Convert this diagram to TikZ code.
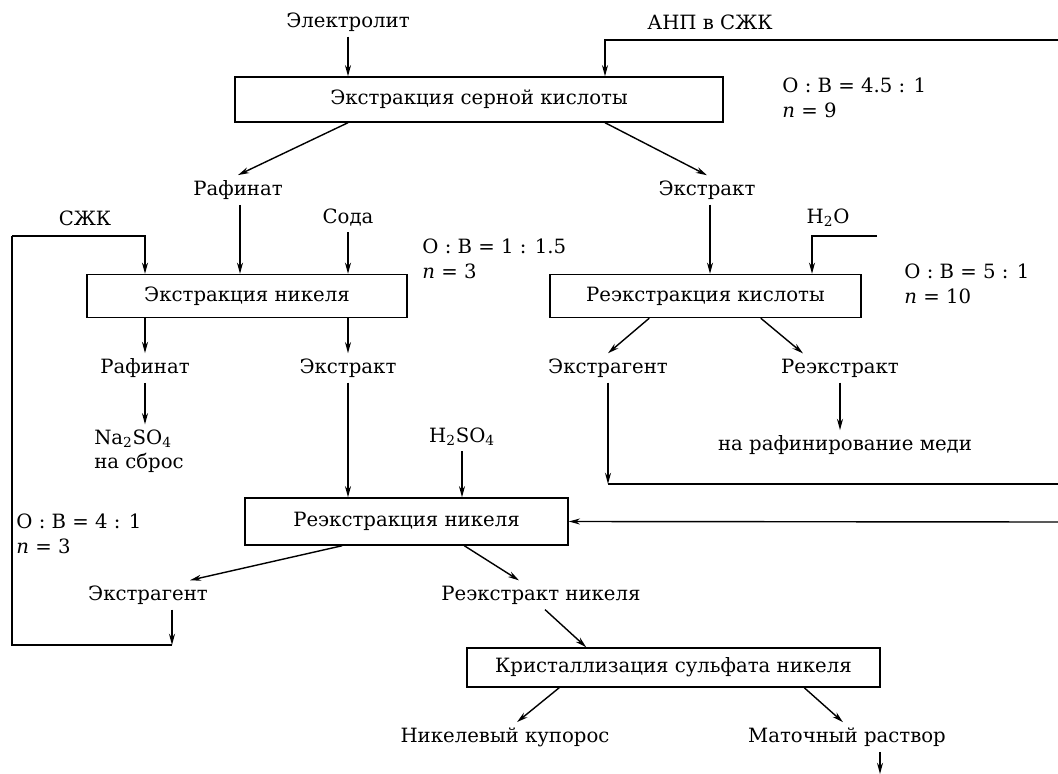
\documentclass[tikz,border=0pt]{standalone}
\usepackage{fontspec}
\setmainfont{DejaVu Serif}
\usetikzlibrary{arrows.meta, positioning, calc}

\begin{document}
\begin{tikzpicture}[x=0.025cm, y=-0.025cm,
  >={Stealth[length=2.8mm, width=1.5mm]}, line width=1pt,
  every node/.style={font=\fontsize{14}{17}\selectfont},
  stage/.style={draw, line width=1pt, inner sep=0pt},
  param/.style={anchor=west, align=left, font=\fontsize{14}{17.5}\selectfont}]

\useasboundingbox (0,0) rectangle (1058,774);

% Stage boxes
\node[stage, minimum width=12.2cm, minimum height=1.125cm] (b1) at (479,99.5) {Экстракция серной кислоты};
\node[stage, minimum width=8cm, minimum height=1.075cm] (b2) at (247,296) {Экстракция никеля};
\node[stage, minimum width=7.775cm, minimum height=1.075cm] (b3) at (705.5,296) {Реэкстракция кислоты};
\node[stage, minimum width=8.075cm, minimum height=1.175cm] (b4) at (406.5,521.5) {Реэкстракция никеля};
\node[stage, minimum width=10.325cm, minimum height=0.975cm] (b5) at (673.5,667.5) {Кристаллизация сульфата никеля};

% Stream labels
\node (elec) at (348,22) {Электролит};
\node (anp) at (710,22) {АНП в СЖК};
\node (raf1) at (238,190) {Рафинат};
\node (ext1) at (707,190) {Экстракт};
\node (szk) at (85,218) {СЖК};
\node (soda) at (348,218) {Сода};
\node (h2o) at (828,218) {H\textsubscript{2}O};
\node (raf2) at (145,368) {Рафинат};
\node (ext2) at (348,368) {Экстракт};
\node (extr1) at (608,368) {Экстрагент};
\node (reextr) at (840,368) {Реэкстракт};
\node[align=left] (na) at (139,451) {Na\textsubscript{2}SO\textsubscript{4}\\на сброс};
\node (h2so4) at (462,437) {H\textsubscript{2}SO\textsubscript{4}};
\node (med) at (845,445) {на рафинирование меди};
\node (extr2) at (148,595) {Экстрагент};
\node (rnik) at (541,595) {Реэкстракт никеля};
\node (kup) at (505,737) {Никелевый купорос};
\node (mat) at (847,737) {Маточный раствор};

% Phase ratios
\node[param] (p1) at (777,98) {О : В = 4.5 : 1\\\textit{n} = 9};
\node[param] (p2) at (417,259) {О : В = 1 : 1.5\\\textit{n} = 3};
\node[param] (p3) at (899,284) {О : В = 5 : 1\\\textit{n} = 10};
\node[param] (p4) at (11,534) {О : В = 4 : 1\\\textit{n} = 3};

% Free ends of the loops
\coordinate (anpR) at (1058,40);
\coordinate (anpL) at (605,40);
\coordinate (szkL) at (12,236);
\coordinate (szkR) at (145,236);
\coordinate (h2oR) at (877,236);
\coordinate (h2oL) at (812,236);
\coordinate (retL) at (608,484);
\coordinate (retR) at (1058,484);
\coordinate (backR) at (1058,522);
\coordinate (loopB) at (172,645);
\coordinate (out) at (880,774);

% Sulfuric acid extraction
\draw[->] (elec) -- (elec |- b1.north);
\draw[->] (anpR) -- (anpL) -- (anpL |- b1.north);
\draw[->] (b1.south -| elec) -- (raf1.north);
\draw[->] (b1.south -| anpL) -- (ext1.north);

% Nickel extraction
\draw[->] (szkL) -- (szkR) -- (szkR |- b2.north);
\draw[->] (raf1.south -| 240,0) -- (b2.north -| 240,0);
\draw[->] (soda) -- (soda |- b2.north);
\draw[->] (b2.south -| szkR) -- (raf2.north);
\draw[->] (b2.south -| soda) -- (ext2.north);
\draw[->] (raf2.south) -- (raf2.south |- na.north);

% Acid stripping
\draw[->] (ext1.south -| 710,0) -- (b3.north -| 710,0);
\draw[->] (h2oR) -- (h2oL) -- (h2oL |- b3.north);
\draw[->] ($(b3.south west)+(100,0)$) -- (extr1.north);
\draw[->] ($(b3.south east)+(-101,0)$) -- ($(reextr.north)+(-37,0)$);
\draw[->] (reextr.south) -- (reextr.south |- med.north);
\draw[->] (extr1.south -| retL) -- (retL);
\draw (retL) -- (retR);

% Nickel stripping
\draw[->] (ext2.south) -- (ext2.south |- b4.north);
\draw[->] (h2so4.south) -- (h2so4.south |- b4.north);
\draw[->] (backR) -- (b4.east);
\draw[->] ($(b4.south west)+(98,0)$) -- ($(extr2.north)+(42,0)$);
\draw[->] ($(b4.south west)+(220,0)$) -- ($(rnik.north)+(-22,0)$);
\draw[->] (extr2.south -| loopB) -- (loopB);
\draw (loopB) -| (szkL);

% Crystallisation
\draw[->] ($(rnik.south)+(4,0)$) -- ($(b5.north west)+(120,0)$);
\draw[->] ($(b5.south west)+(93,0)$) -- ($(kup.north)+(12,0)$);
\draw[->] ($(b5.south west)+(338,0)$) -- ($(mat.north)+(-4,0)$);
\draw[->] (mat.south -| out) -- (out);

\end{tikzpicture}
\end{document}
